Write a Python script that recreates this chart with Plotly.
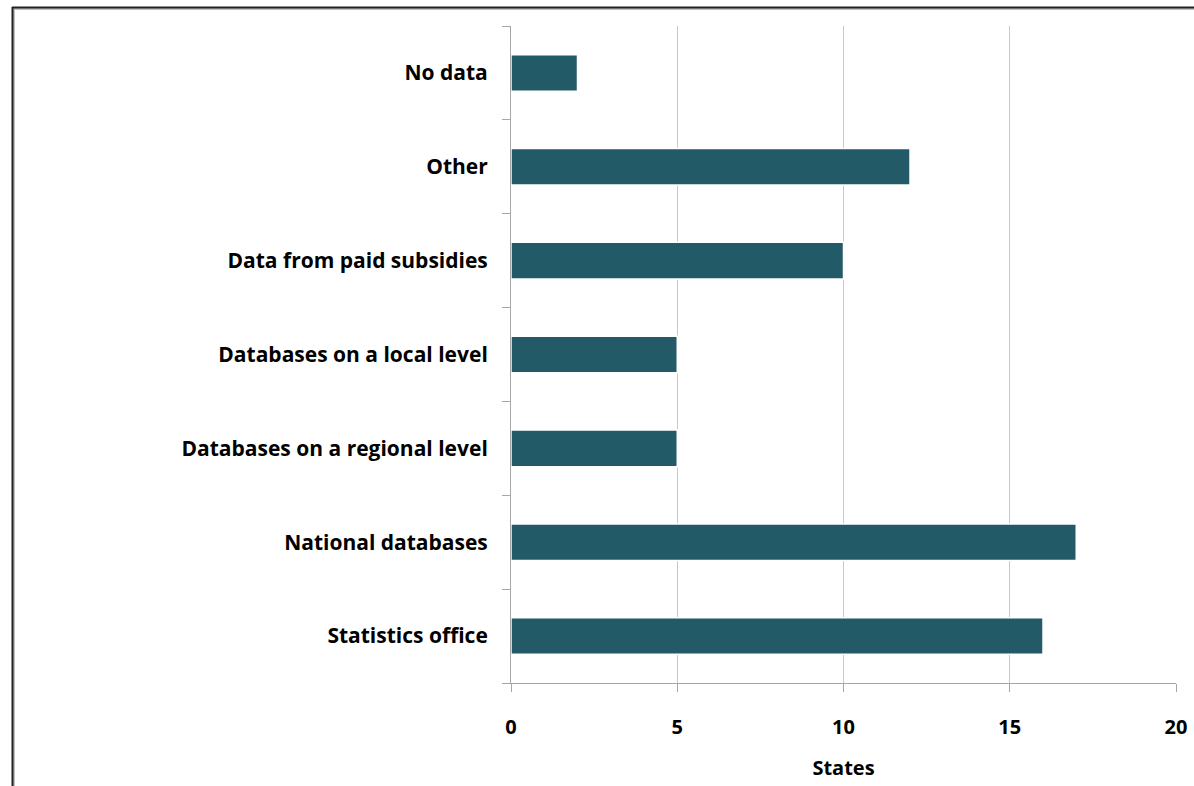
import plotly.graph_objects as go

categories = ["Statistics office", "National databases", "Databases on a regional level",
              "Databases on a local level", "Data from paid subsidies", "Other", "No data"]
values = [16, 17, 5, 5, 10, 12, 2]
x_ticks = [0, 5, 10, 15, 20]

W, H = 1194, 786
L, R, T, B = 511, 1176, 26, 683

def px(x):
    return (x - L) / (R - L)

def py(y):
    return (B - y) / (B - T)

fig = go.Figure()
fig.add_trace(go.Bar(
    y=categories, x=values, orientation="h",
    marker=dict(color="#235A68", line=dict(color="white", width=1.5)),
    hoverinfo="x+y",
))

font_family = "'Open Sans', sans-serif"
tf = dict(family=font_family, size=21, color="black", weight="bold")
tfx = dict(family=font_family, size=20, color="black", weight="bold")
fig.update_layout(
    width=W, height=H,
    margin=dict(l=L, r=W - R, t=T, b=H - B, pad=0, autoexpand=False),
    paper_bgcolor="white", plot_bgcolor="white",
    bargap=0.61,
    showlegend=False,
    font=dict(family=font_family, size=20, color="black"),
    xaxis=dict(
        range=[0, 20], tickvals=x_ticks, ticktext=[str(v) for v in x_ticks],
        showgrid=True, gridcolor="#c8c8c8", gridwidth=1,
        zeroline=False, showline=True, linecolor="#a6a6a6", linewidth=1,
        ticks="outside", ticklen=8, tickcolor="#a6a6a6",
        tickfont=tfx, ticklabelstandoff=18,
        title=dict(text="States", font=tfx, standoff=21),
        automargin=False,
        fixedrange=True,
    ),
    yaxis=dict(
        categoryorder="array", categoryarray=categories,
        showgrid=False, zeroline=False,
        showline=True, linecolor="#a6a6a6", linewidth=1,
        ticks="outside", ticklen=8, tickcolor="#a6a6a6", tickson="boundaries",
        tickfont=tf,
        ticklabelstandoff=18,
        automargin=False,
        fixedrange=True,
    ),
    shapes=[
        dict(type="line", xref="paper", yref="paper", x0=px(13), x1=px(W + 5), y0=py(9), y1=py(9),
             line=dict(color="#c0c0c0", width=2)),
        dict(type="line", xref="paper", yref="paper", x0=px(14), x1=px(14), y0=py(9), y1=py(H + 5),
             line=dict(color="#c0c0c0", width=2)),
        dict(type="line", xref="paper", yref="paper", x0=px(12), x1=px(W + 5), y0=py(7.5), y1=py(7.5),
             line=dict(color="#222222", width=2)),
        dict(type="line", xref="paper", yref="paper", x0=px(12.5), x1=px(12.5), y0=py(7), y1=py(H + 5),
             line=dict(color="#222222", width=2)),
    ],
)

fig.write_html("out.html")
